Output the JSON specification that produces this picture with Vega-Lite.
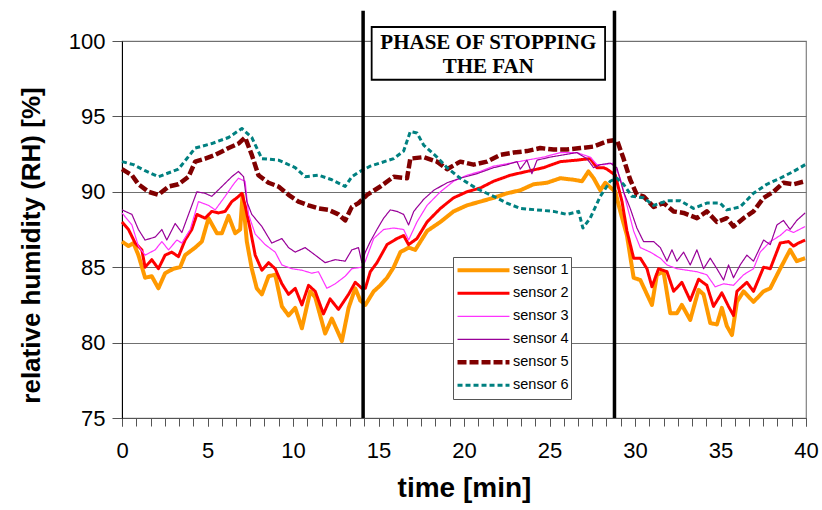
{
"$schema":"https://vega.github.io/schema/vega-lite/v6.json",
"width":684,"height":377,
"autosize":{"type":"none"},
"padding":{"left":122,"top":41,"right":16,"bottom":92},
"background":"white",
"config":{"font":"Liberation Sans","view":{"stroke":"#808080","strokeWidth":1.2},
"legend":{"orient":"none","legendX":331,"legendY":216,"padding":2,"strokeColor":"#555555","fillColor":"white","symbolType":"stroke","symbolSize":2700,"labelFontSize":14.5,"labelColor":"black","labelFont":"Liberation Sans","rowPadding":0,"clipHeight":22.7,"labelOffset":1,"title":null}},
"resolve":{"axis":{"x":"independent"}},
"datasets":{
"main":[
{"s":"sensor 1","t":0,"v":86.7},{"s":"sensor 1","t":0.38,"v":86.4},{"s":"sensor 1","t":0.67,"v":86.6},{"s":"sensor 1","t":0.96,"v":85.8},{"s":"sensor 1","t":1.35,"v":84.3},{"s":"sensor 1","t":1.74,"v":84.4},{"s":"sensor 1","t":2.13,"v":83.6},{"s":"sensor 1","t":2.52,"v":84.6},{"s":"sensor 1","t":3.01,"v":84.9},{"s":"sensor 1","t":3.4,"v":85.0},{"s":"sensor 1","t":3.69,"v":85.8},{"s":"sensor 1","t":4.28,"v":86.3},{"s":"sensor 1","t":4.67,"v":86.7},{"s":"sensor 1","t":5.06,"v":88.25},{"s":"sensor 1","t":5.55,"v":87.25},{"s":"sensor 1","t":5.84,"v":87.25},{"s":"sensor 1","t":6.23,"v":88.4},{"s":"sensor 1","t":6.62,"v":87.25},{"s":"sensor 1","t":6.91,"v":87.5},{"s":"sensor 1","t":7.05,"v":89.8},{"s":"sensor 1","t":7.3,"v":86.7},{"s":"sensor 1","t":7.59,"v":84.9},{"s":"sensor 1","t":7.88,"v":83.6},{"s":"sensor 1","t":8.18,"v":83.2},{"s":"sensor 1","t":8.57,"v":84.4},{"s":"sensor 1","t":8.96,"v":84.5},{"s":"sensor 1","t":9.35,"v":82.4},{"s":"sensor 1","t":9.74,"v":81.8},{"s":"sensor 1","t":10.13,"v":82.3},{"s":"sensor 1","t":10.52,"v":80.95},{"s":"sensor 1","t":11.01,"v":83.4},{"s":"sensor 1","t":11.3,"v":83.0},{"s":"sensor 1","t":11.88,"v":80.6},{"s":"sensor 1","t":12.27,"v":81.6},{"s":"sensor 1","t":12.86,"v":80.1},{"s":"sensor 1","t":13.25,"v":82.3},{"s":"sensor 1","t":13.64,"v":83.6},{"s":"sensor 1","t":13.93,"v":82.8},{"s":"sensor 1","t":14.23,"v":82.5},{"s":"sensor 1","t":14.72,"v":83.4},{"s":"sensor 1","t":15.11,"v":83.8},{"s":"sensor 1","t":15.5,"v":84.3},{"s":"sensor 1","t":15.89,"v":85.0},{"s":"sensor 1","t":16.28,"v":86.0},{"s":"sensor 1","t":16.76,"v":86.3},{"s":"sensor 1","t":17.15,"v":86.15},{"s":"sensor 1","t":17.84,"v":87.4},{"s":"sensor 1","t":18.62,"v":88.0},{"s":"sensor 1","t":19.39,"v":88.7},{"s":"sensor 1","t":20.17,"v":89.1},{"s":"sensor 1","t":20.95,"v":89.35},{"s":"sensor 1","t":21.73,"v":89.6},{"s":"sensor 1","t":22.51,"v":89.9},{"s":"sensor 1","t":23.29,"v":90.1},{"s":"sensor 1","t":24.07,"v":90.5},{"s":"sensor 1","t":24.85,"v":90.6},{"s":"sensor 1","t":25.63,"v":90.9},{"s":"sensor 1","t":26.41,"v":90.8},{"s":"sensor 1","t":26.9,"v":90.7},{"s":"sensor 1","t":27.28,"v":91.35},{"s":"sensor 1","t":27.58,"v":90.9},{"s":"sensor 1","t":27.97,"v":90.1},{"s":"sensor 1","t":28.26,"v":90.6},{"s":"sensor 1","t":28.85,"v":90.0},{"s":"sensor 1","t":29.14,"v":88.7},{"s":"sensor 1","t":29.53,"v":87.1},{"s":"sensor 1","t":29.92,"v":84.3},{"s":"sensor 1","t":30.31,"v":84.15},{"s":"sensor 1","t":30.7,"v":83.2},{"s":"sensor 1","t":30.99,"v":82.5},{"s":"sensor 1","t":31.28,"v":84.5},{"s":"sensor 1","t":31.67,"v":84.7},{"s":"sensor 1","t":32.06,"v":81.95},{"s":"sensor 1","t":32.45,"v":81.95},{"s":"sensor 1","t":32.74,"v":82.5},{"s":"sensor 1","t":33.23,"v":81.5},{"s":"sensor 1","t":33.72,"v":83.5},{"s":"sensor 1","t":34.01,"v":83.2},{"s":"sensor 1","t":34.4,"v":81.3},{"s":"sensor 1","t":34.79,"v":81.2},{"s":"sensor 1","t":35.08,"v":82.3},{"s":"sensor 1","t":35.37,"v":81.1},{"s":"sensor 1","t":35.67,"v":80.5},{"s":"sensor 1","t":35.96,"v":82.7},{"s":"sensor 1","t":36.35,"v":83.4},{"s":"sensor 1","t":36.93,"v":82.7},{"s":"sensor 1","t":37.52,"v":83.4},{"s":"sensor 1","t":37.91,"v":83.6},{"s":"sensor 1","t":38.49,"v":84.9},{"s":"sensor 1","t":39.07,"v":86.15},{"s":"sensor 1","t":39.46,"v":85.4},{"s":"sensor 1","t":39.95,"v":85.6},
{"s":"sensor 2","t":0,"v":88.0},{"s":"sensor 2","t":0.38,"v":87.5},{"s":"sensor 2","t":0.77,"v":86.6},{"s":"sensor 2","t":1.16,"v":86.15},{"s":"sensor 2","t":1.35,"v":85.0},{"s":"sensor 2","t":1.74,"v":85.5},{"s":"sensor 2","t":2.13,"v":84.9},{"s":"sensor 2","t":2.52,"v":85.8},{"s":"sensor 2","t":2.91,"v":86.0},{"s":"sensor 2","t":3.3,"v":85.7},{"s":"sensor 2","t":3.69,"v":86.8},{"s":"sensor 2","t":4.08,"v":87.5},{"s":"sensor 2","t":4.38,"v":88.5},{"s":"sensor 2","t":4.86,"v":88.25},{"s":"sensor 2","t":5.25,"v":88.7},{"s":"sensor 2","t":5.64,"v":88.6},{"s":"sensor 2","t":6.03,"v":88.7},{"s":"sensor 2","t":6.42,"v":89.35},{"s":"sensor 2","t":6.72,"v":89.6},{"s":"sensor 2","t":7.01,"v":89.9},{"s":"sensor 2","t":7.2,"v":89.1},{"s":"sensor 2","t":7.5,"v":87.5},{"s":"sensor 2","t":7.79,"v":85.8},{"s":"sensor 2","t":8.18,"v":84.8},{"s":"sensor 2","t":8.57,"v":85.3},{"s":"sensor 2","t":8.96,"v":84.9},{"s":"sensor 2","t":9.35,"v":83.9},{"s":"sensor 2","t":9.74,"v":83.2},{"s":"sensor 2","t":10.13,"v":83.6},{"s":"sensor 2","t":10.52,"v":82.5},{"s":"sensor 2","t":10.91,"v":83.8},{"s":"sensor 2","t":11.3,"v":83.4},{"s":"sensor 2","t":11.78,"v":81.9},{"s":"sensor 2","t":12.17,"v":82.9},{"s":"sensor 2","t":12.66,"v":82.2},{"s":"sensor 2","t":13.25,"v":83.2},{"s":"sensor 2","t":13.64,"v":84.0},{"s":"sensor 2","t":14.03,"v":83.6},{"s":"sensor 2","t":14.23,"v":83.6},{"s":"sensor 2","t":14.52,"v":84.7},{"s":"sensor 2","t":14.91,"v":85.3},{"s":"sensor 2","t":15.5,"v":86.5},{"s":"sensor 2","t":16.08,"v":86.9},{"s":"sensor 2","t":16.47,"v":87.1},{"s":"sensor 2","t":16.76,"v":86.5},{"s":"sensor 2","t":17.25,"v":86.9},{"s":"sensor 2","t":17.84,"v":88.0},{"s":"sensor 2","t":18.62,"v":88.9},{"s":"sensor 2","t":19.39,"v":89.6},{"s":"sensor 2","t":20.17,"v":90.0},{"s":"sensor 2","t":20.95,"v":90.25},{"s":"sensor 2","t":21.73,"v":90.7},{"s":"sensor 2","t":22.71,"v":91.1},{"s":"sensor 2","t":23.68,"v":91.35},{"s":"sensor 2","t":24.65,"v":91.6},{"s":"sensor 2","t":25.63,"v":92.0},{"s":"sensor 2","t":26.6,"v":92.1},{"s":"sensor 2","t":27.38,"v":92.2},{"s":"sensor 2","t":27.77,"v":91.6},{"s":"sensor 2","t":28.16,"v":91.6},{"s":"sensor 2","t":28.36,"v":91.5},{"s":"sensor 2","t":28.85,"v":91.1},{"s":"sensor 2","t":29.24,"v":89.35},{"s":"sensor 2","t":29.53,"v":87.4},{"s":"sensor 2","t":29.92,"v":85.6},{"s":"sensor 2","t":30.31,"v":85.6},{"s":"sensor 2","t":30.7,"v":84.9},{"s":"sensor 2","t":30.99,"v":83.7},{"s":"sensor 2","t":31.38,"v":84.9},{"s":"sensor 2","t":31.87,"v":84.7},{"s":"sensor 2","t":32.26,"v":83.4},{"s":"sensor 2","t":32.74,"v":84.0},{"s":"sensor 2","t":33.23,"v":82.8},{"s":"sensor 2","t":33.72,"v":84.2},{"s":"sensor 2","t":34.2,"v":83.8},{"s":"sensor 2","t":34.59,"v":82.4},{"s":"sensor 2","t":35.08,"v":83.3},{"s":"sensor 2","t":35.47,"v":82.4},{"s":"sensor 2","t":35.76,"v":81.8},{"s":"sensor 2","t":35.96,"v":83.4},{"s":"sensor 2","t":36.54,"v":84.0},{"s":"sensor 2","t":36.93,"v":83.4},{"s":"sensor 2","t":37.52,"v":85.0},{"s":"sensor 2","t":37.91,"v":84.9},{"s":"sensor 2","t":38.49,"v":86.6},{"s":"sensor 2","t":38.98,"v":86.7},{"s":"sensor 2","t":39.27,"v":86.4},{"s":"sensor 2","t":39.56,"v":86.6},{"s":"sensor 2","t":39.95,"v":86.8},
{"s":"sensor 3","t":0,"v":88.6},{"s":"sensor 3","t":0.58,"v":87.8},{"s":"sensor 3","t":0.96,"v":86.4},{"s":"sensor 3","t":1.35,"v":85.8},{"s":"sensor 3","t":1.94,"v":86.15},{"s":"sensor 3","t":2.33,"v":86.7},{"s":"sensor 3","t":2.72,"v":86.15},{"s":"sensor 3","t":3.21,"v":86.8},{"s":"sensor 3","t":3.5,"v":86.6},{"s":"sensor 3","t":3.99,"v":87.5},{"s":"sensor 3","t":4.47,"v":89.35},{"s":"sensor 3","t":5.06,"v":89.1},{"s":"sensor 3","t":5.45,"v":88.8},{"s":"sensor 3","t":6.03,"v":89.7},{"s":"sensor 3","t":6.52,"v":90.5},{"s":"sensor 3","t":6.81,"v":90.9},{"s":"sensor 3","t":7.2,"v":90.7},{"s":"sensor 3","t":7.4,"v":88.5},{"s":"sensor 3","t":7.79,"v":87.2},{"s":"sensor 3","t":8.37,"v":86.5},{"s":"sensor 3","t":8.96,"v":86.0},{"s":"sensor 3","t":9.35,"v":85.15},{"s":"sensor 3","t":9.93,"v":84.9},{"s":"sensor 3","t":10.52,"v":84.8},{"s":"sensor 3","t":11.1,"v":84.6},{"s":"sensor 3","t":11.49,"v":84.7},{"s":"sensor 3","t":11.98,"v":83.6},{"s":"sensor 3","t":12.47,"v":83.9},{"s":"sensor 3","t":13.05,"v":84.4},{"s":"sensor 3","t":13.44,"v":84.9},{"s":"sensor 3","t":14.03,"v":85.0},{"s":"sensor 3","t":14.23,"v":85.4},{"s":"sensor 3","t":14.72,"v":86.9},{"s":"sensor 3","t":15.3,"v":87.5},{"s":"sensor 3","t":15.89,"v":87.6},{"s":"sensor 3","t":16.47,"v":87.5},{"s":"sensor 3","t":16.76,"v":86.8},{"s":"sensor 3","t":17.25,"v":88.0},{"s":"sensor 3","t":17.84,"v":89.1},{"s":"sensor 3","t":18.62,"v":90.0},{"s":"sensor 3","t":19.39,"v":90.7},{"s":"sensor 3","t":20.17,"v":91.1},{"s":"sensor 3","t":20.95,"v":91.35},{"s":"sensor 3","t":21.73,"v":91.7},{"s":"sensor 3","t":22.71,"v":91.9},{"s":"sensor 3","t":23.68,"v":92.1},{"s":"sensor 3","t":24.65,"v":92.3},{"s":"sensor 3","t":25.63,"v":92.6},{"s":"sensor 3","t":26.6,"v":92.6},{"s":"sensor 3","t":27.38,"v":92.3},{"s":"sensor 3","t":27.77,"v":91.8},{"s":"sensor 3","t":28.16,"v":91.8},{"s":"sensor 3","t":28.75,"v":91.9},{"s":"sensor 3","t":29.14,"v":90.9},{"s":"sensor 3","t":29.53,"v":89.1},{"s":"sensor 3","t":29.92,"v":87.4},{"s":"sensor 3","t":30.31,"v":86.3},{"s":"sensor 3","t":30.89,"v":86.0},{"s":"sensor 3","t":31.48,"v":85.6},{"s":"sensor 3","t":31.87,"v":85.15},{"s":"sensor 3","t":32.45,"v":84.9},{"s":"sensor 3","t":33.04,"v":84.8},{"s":"sensor 3","t":33.62,"v":84.7},{"s":"sensor 3","t":34.2,"v":84.5},{"s":"sensor 3","t":34.69,"v":83.7},{"s":"sensor 3","t":35.18,"v":83.9},{"s":"sensor 3","t":35.76,"v":83.8},{"s":"sensor 3","t":36.35,"v":84.5},{"s":"sensor 3","t":36.93,"v":84.9},{"s":"sensor 3","t":37.32,"v":86.0},{"s":"sensor 3","t":37.91,"v":86.7},{"s":"sensor 3","t":38.49,"v":87.1},{"s":"sensor 3","t":38.88,"v":87.5},{"s":"sensor 3","t":39.27,"v":87.3},{"s":"sensor 3","t":39.95,"v":87.7},
{"s":"sensor 4","t":0,"v":88.8},{"s":"sensor 4","t":0.58,"v":88.5},{"s":"sensor 4","t":0.96,"v":87.5},{"s":"sensor 4","t":1.35,"v":86.8},{"s":"sensor 4","t":1.94,"v":87.0},{"s":"sensor 4","t":2.33,"v":87.5},{"s":"sensor 4","t":2.62,"v":86.8},{"s":"sensor 4","t":3.11,"v":87.9},{"s":"sensor 4","t":3.5,"v":87.3},{"s":"sensor 4","t":3.89,"v":88.5},{"s":"sensor 4","t":4.38,"v":90.0},{"s":"sensor 4","t":4.86,"v":89.9},{"s":"sensor 4","t":5.25,"v":89.7},{"s":"sensor 4","t":5.84,"v":90.35},{"s":"sensor 4","t":6.42,"v":91.0},{"s":"sensor 4","t":6.81,"v":91.35},{"s":"sensor 4","t":7.11,"v":91.0},{"s":"sensor 4","t":7.3,"v":89.35},{"s":"sensor 4","t":7.59,"v":88.5},{"s":"sensor 4","t":8.18,"v":87.7},{"s":"sensor 4","t":8.76,"v":86.6},{"s":"sensor 4","t":9.35,"v":86.9},{"s":"sensor 4","t":9.74,"v":86.3},{"s":"sensor 4","t":10.13,"v":86.0},{"s":"sensor 4","t":10.71,"v":86.3},{"s":"sensor 4","t":11.3,"v":85.8},{"s":"sensor 4","t":11.88,"v":85.3},{"s":"sensor 4","t":12.47,"v":85.5},{"s":"sensor 4","t":13.05,"v":85.4},{"s":"sensor 4","t":13.44,"v":86.15},{"s":"sensor 4","t":13.83,"v":86.3},{"s":"sensor 4","t":14.03,"v":85.3},{"s":"sensor 4","t":14.23,"v":86.0},{"s":"sensor 4","t":14.52,"v":86.7},{"s":"sensor 4","t":14.91,"v":87.5},{"s":"sensor 4","t":15.3,"v":88.25},{"s":"sensor 4","t":15.69,"v":88.8},{"s":"sensor 4","t":16.08,"v":88.7},{"s":"sensor 4","t":16.47,"v":88.5},{"s":"sensor 4","t":16.76,"v":87.8},{"s":"sensor 4","t":17.06,"v":88.7},{"s":"sensor 4","t":17.64,"v":89.5},{"s":"sensor 4","t":18.23,"v":90.1},{"s":"sensor 4","t":19.01,"v":90.6},{"s":"sensor 4","t":19.78,"v":90.9},{"s":"sensor 4","t":20.76,"v":91.2},{"s":"sensor 4","t":21.73,"v":91.6},{"s":"sensor 4","t":22.51,"v":91.8},{"s":"sensor 4","t":23.1,"v":92.0},{"s":"sensor 4","t":23.29,"v":91.5},{"s":"sensor 4","t":23.68,"v":92.1},{"s":"sensor 4","t":23.97,"v":91.2},{"s":"sensor 4","t":24.27,"v":92.1},{"s":"sensor 4","t":25.04,"v":92.3},{"s":"sensor 4","t":25.82,"v":92.45},{"s":"sensor 4","t":26.6,"v":92.6},{"s":"sensor 4","t":27.19,"v":92.2},{"s":"sensor 4","t":27.58,"v":91.6},{"s":"sensor 4","t":27.97,"v":91.8},{"s":"sensor 4","t":28.55,"v":91.9},{"s":"sensor 4","t":28.94,"v":91.6},{"s":"sensor 4","t":29.33,"v":90.0},{"s":"sensor 4","t":29.72,"v":88.9},{"s":"sensor 4","t":30.11,"v":87.6},{"s":"sensor 4","t":30.5,"v":86.7},{"s":"sensor 4","t":31.09,"v":86.7},{"s":"sensor 4","t":31.48,"v":86.3},{"s":"sensor 4","t":31.87,"v":85.4},{"s":"sensor 4","t":32.16,"v":86.15},{"s":"sensor 4","t":32.45,"v":85.4},{"s":"sensor 4","t":32.84,"v":86.0},{"s":"sensor 4","t":33.23,"v":85.15},{"s":"sensor 4","t":33.62,"v":86.15},{"s":"sensor 4","t":34.01,"v":84.9},{"s":"sensor 4","t":34.4,"v":85.6},{"s":"sensor 4","t":34.79,"v":84.9},{"s":"sensor 4","t":35.18,"v":84.15},{"s":"sensor 4","t":35.47,"v":85.15},{"s":"sensor 4","t":35.76,"v":84.3},{"s":"sensor 4","t":36.15,"v":85.15},{"s":"sensor 4","t":36.54,"v":85.8},{"s":"sensor 4","t":36.93,"v":85.4},{"s":"sensor 4","t":37.52,"v":86.8},{"s":"sensor 4","t":37.91,"v":86.5},{"s":"sensor 4","t":38.3,"v":87.8},{"s":"sensor 4","t":38.68,"v":88.1},{"s":"sensor 4","t":39.07,"v":87.5},{"s":"sensor 4","t":39.46,"v":88.1},{"s":"sensor 4","t":39.95,"v":88.6},
{"s":"sensor 5","t":0,"v":91.5},{"s":"sensor 5","t":0.58,"v":91.1},{"s":"sensor 5","t":0.96,"v":90.5},{"s":"sensor 5","t":1.55,"v":90.0},{"s":"sensor 5","t":2.13,"v":89.8},{"s":"sensor 5","t":2.72,"v":90.35},{"s":"sensor 5","t":3.3,"v":90.5},{"s":"sensor 5","t":3.89,"v":91.0},{"s":"sensor 5","t":4.28,"v":92.0},{"s":"sensor 5","t":4.86,"v":92.2},{"s":"sensor 5","t":5.45,"v":92.45},{"s":"sensor 5","t":6.23,"v":92.9},{"s":"sensor 5","t":6.81,"v":93.2},{"s":"sensor 5","t":7.2,"v":93.6},{"s":"sensor 5","t":7.59,"v":92.45},{"s":"sensor 5","t":7.98,"v":91.1},{"s":"sensor 5","t":8.57,"v":90.6},{"s":"sensor 5","t":9.15,"v":90.35},{"s":"sensor 5","t":9.74,"v":89.8},{"s":"sensor 5","t":10.32,"v":89.35},{"s":"sensor 5","t":10.91,"v":89.1},{"s":"sensor 5","t":11.49,"v":88.9},{"s":"sensor 5","t":12.08,"v":88.8},{"s":"sensor 5","t":12.66,"v":88.5},{"s":"sensor 5","t":13.05,"v":88.1},{"s":"sensor 5","t":13.44,"v":89.0},{"s":"sensor 5","t":13.83,"v":89.25},{"s":"sensor 5","t":14.33,"v":89.8},{"s":"sensor 5","t":15.11,"v":90.35},{"s":"sensor 5","t":15.89,"v":91.0},{"s":"sensor 5","t":16.67,"v":90.9},{"s":"sensor 5","t":16.86,"v":92.2},{"s":"sensor 5","t":17.64,"v":92.3},{"s":"sensor 5","t":18.42,"v":92.0},{"s":"sensor 5","t":19.01,"v":91.5},{"s":"sensor 5","t":19.78,"v":92.0},{"s":"sensor 5","t":20.56,"v":91.8},{"s":"sensor 5","t":21.34,"v":92.0},{"s":"sensor 5","t":22.12,"v":92.45},{"s":"sensor 5","t":22.9,"v":92.6},{"s":"sensor 5","t":23.68,"v":92.7},{"s":"sensor 5","t":24.46,"v":92.9},{"s":"sensor 5","t":25.24,"v":92.8},{"s":"sensor 5","t":26.02,"v":92.8},{"s":"sensor 5","t":26.8,"v":92.9},{"s":"sensor 5","t":27.58,"v":93.0},{"s":"sensor 5","t":28.36,"v":93.35},{"s":"sensor 5","t":28.94,"v":93.45},{"s":"sensor 5","t":29.33,"v":92.2},{"s":"sensor 5","t":29.72,"v":90.8},{"s":"sensor 5","t":30.11,"v":89.8},{"s":"sensor 5","t":30.5,"v":89.7},{"s":"sensor 5","t":31.09,"v":89.0},{"s":"sensor 5","t":31.67,"v":89.25},{"s":"sensor 5","t":32.26,"v":88.7},{"s":"sensor 5","t":32.84,"v":88.6},{"s":"sensor 5","t":33.62,"v":88.25},{"s":"sensor 5","t":34.2,"v":88.7},{"s":"sensor 5","t":34.79,"v":88.0},{"s":"sensor 5","t":35.37,"v":88.25},{"s":"sensor 5","t":35.76,"v":87.7},{"s":"sensor 5","t":36.35,"v":88.25},{"s":"sensor 5","t":36.93,"v":88.7},{"s":"sensor 5","t":37.52,"v":89.6},{"s":"sensor 5","t":38.1,"v":90.0},{"s":"sensor 5","t":38.68,"v":90.6},{"s":"sensor 5","t":39.27,"v":90.5},{"s":"sensor 5","t":39.95,"v":90.7},
{"s":"sensor 6","t":0,"v":92.0},{"s":"sensor 6","t":0.67,"v":91.8},{"s":"sensor 6","t":1.35,"v":91.4},{"s":"sensor 6","t":2.13,"v":91.0},{"s":"sensor 6","t":3.3,"v":91.5},{"s":"sensor 6","t":4.28,"v":92.9},{"s":"sensor 6","t":5.25,"v":93.2},{"s":"sensor 6","t":6.23,"v":93.6},{"s":"sensor 6","t":7.01,"v":94.2},{"s":"sensor 6","t":7.59,"v":93.6},{"s":"sensor 6","t":8.18,"v":92.2},{"s":"sensor 6","t":9.15,"v":92.1},{"s":"sensor 6","t":10.13,"v":91.6},{"s":"sensor 6","t":10.71,"v":91.0},{"s":"sensor 6","t":11.49,"v":91.1},{"s":"sensor 6","t":12.27,"v":90.8},{"s":"sensor 6","t":13.05,"v":90.35},{"s":"sensor 6","t":13.44,"v":91.0},{"s":"sensor 6","t":13.83,"v":91.3},{"s":"sensor 6","t":14.52,"v":91.7},{"s":"sensor 6","t":15.89,"v":92.2},{"s":"sensor 6","t":16.47,"v":92.7},{"s":"sensor 6","t":16.86,"v":94.0},{"s":"sensor 6","t":17.25,"v":93.9},{"s":"sensor 6","t":17.64,"v":93.1},{"s":"sensor 6","t":18.42,"v":92.3},{"s":"sensor 6","t":19.01,"v":91.6},{"s":"sensor 6","t":19.78,"v":90.9},{"s":"sensor 6","t":20.76,"v":90.2},{"s":"sensor 6","t":21.73,"v":89.7},{"s":"sensor 6","t":22.51,"v":89.25},{"s":"sensor 6","t":23.29,"v":88.9},{"s":"sensor 6","t":24.27,"v":88.8},{"s":"sensor 6","t":25.24,"v":88.7},{"s":"sensor 6","t":26.02,"v":88.5},{"s":"sensor 6","t":26.7,"v":88.7},{"s":"sensor 6","t":26.95,"v":87.6},{"s":"sensor 6","t":27.38,"v":88.25},{"s":"sensor 6","t":27.97,"v":89.7},{"s":"sensor 6","t":28.55,"v":90.7},{"s":"sensor 6","t":28.94,"v":90.9},{"s":"sensor 6","t":29.33,"v":90.5},{"s":"sensor 6","t":29.82,"v":89.7},{"s":"sensor 6","t":30.5,"v":89.6},{"s":"sensor 6","t":31.09,"v":89.1},{"s":"sensor 6","t":31.87,"v":89.4},{"s":"sensor 6","t":32.65,"v":89.4},{"s":"sensor 6","t":33.42,"v":88.9},{"s":"sensor 6","t":34.2,"v":89.25},{"s":"sensor 6","t":34.98,"v":89.25},{"s":"sensor 6","t":35.37,"v":88.8},{"s":"sensor 6","t":36.15,"v":89.0},{"s":"sensor 6","t":36.93,"v":89.9},{"s":"sensor 6","t":37.71,"v":90.5},{"s":"sensor 6","t":38.49,"v":90.9},{"s":"sensor 6","t":39.27,"v":91.35},{"s":"sensor 6","t":39.95,"v":91.8}
],
"phases":[{"t":14.1,"lo":75,"hi":102},{"t":28.8,"lo":75,"hi":102}],
"box":[{"x1":14.6,"x2":28.25,"y1":97.43,"y2":100.93}],
"label":[{"x":21.42,"y":99.85,"txt":"PHASE OF STOPPING"},{"x":21.42,"y":98.25,"txt":"THE FAN"}]
},
"layer":[
{"data":{"name":"main"},"mark":{"type":"line","clip":false,"strokeJoin":"round"},
"encoding":{
"x":{"field":"t","type":"quantitative","scale":{"domain":[0,40],"nice":false},
"axis":{"orient":"bottom","title":"time [min]","titleFont":"Liberation Sans","titleFontSize":28,"titleFontWeight":"bold","titleColor":"black","titlePadding":13,
"values":[0,5,10,15,20,25,30,35,40],"format":"d",
"labelFontSize":22,"labelColor":"black","labelPadding":14,"labelFlush":false,"labelOverlap":false,"tickSize":8,"tickColor":"#555555","domainColor":"#555555","grid":false}},
"y":{"field":"v","type":"quantitative","scale":{"domain":[75,100],"nice":false},
"axis":{"title":"relative humidity (RH) [%]","titleFont":"Liberation Sans","titleFontSize":26,"titleFontWeight":"bold","titleColor":"black","titleX":-78,"titleY":204,
"values":[75,80,85,90,95,100],"labelFontSize":22,"labelColor":"black","labelPadding":7,"tickSize":10,"tickColor":"#555555","domainColor":"black","grid":true,"gridColor":"#707070","gridWidth":1.2}},
"color":{"field":"s","type":"nominal","scale":{"domain":["sensor 1","sensor 2","sensor 3","sensor 4","sensor 5","sensor 6"],"range":["#FF9900","#FF0000","#FF33FF","#990099","#800000","#008080"]},"legend":{"title":null,"clipHeight":22.7,"rowPadding":0}},
"strokeDash":{"field":"s","type":"nominal","scale":{"domain":["sensor 1","sensor 2","sensor 3","sensor 4","sensor 5","sensor 6"],"range":[[1,0],[1,0],[1,0],[1,0],[9,3],[5,3]]},"legend":{"title":null,"clipHeight":22.7,"rowPadding":0}},
"strokeWidth":{"field":"s","type":"nominal","scale":{"type":"ordinal","domain":["sensor 1","sensor 2","sensor 3","sensor 4","sensor 5","sensor 6"],"range":[4,3,1.2,1.2,4.5,3]},"legend":{"title":null,"clipHeight":22.7,"rowPadding":0}}
}},
{"data":{"name":"phases"},"mark":{"type":"rule","color":"black","strokeWidth":3.5,"clip":false},
"encoding":{"x":{"field":"t","type":"quantitative","axis":{"orient":"bottom","title":null,"labels":false,"domain":false,"grid":false,"tickSize":8,"tickColor":"#555555",
"values":[0,0.8333,1.6667,2.5,3.3333,4.1667,5,5.8333,6.6667,7.5,8.3333,9.1667,10,10.8333,11.6667,12.5,13.3333,14.1667,15,15.8333,16.6667,17.5,18.3333,19.1667,20,20.8333,21.6667,22.5,23.3333,24.1667,25,25.8333,26.6667,27.5,28.3333,29.1667,30,30.8333,31.6667,32.5,33.3333,34.1667,35,35.8333,36.6667,37.5,38.3333,39.1667,40]}},
"y":{"field":"lo","type":"quantitative"},"y2":{"field":"hi"}}},
{"data":{"name":"box"},"mark":{"type":"rect","fill":"white","stroke":"black","strokeWidth":1.8,"clip":false},
"encoding":{"x":{"field":"x1","type":"quantitative","axis":null},"x2":{"field":"x2"},"y":{"field":"y1","type":"quantitative"},"y2":{"field":"y2"}}},
{"data":{"name":"label"},"mark":{"type":"text","font":"Liberation Serif","fontSize":21,"fontWeight":"bold","color":"black","align":"center","baseline":"middle","clip":false},
"encoding":{"x":{"field":"x","type":"quantitative","axis":null},"y":{"field":"y","type":"quantitative"},"text":{"field":"txt"}}}
]
}
